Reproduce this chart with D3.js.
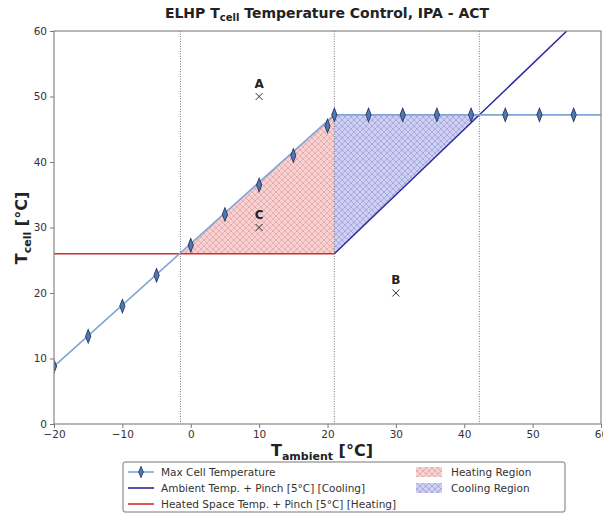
<!DOCTYPE html>
<html>
<head>
<meta charset="utf-8">
<script src="https://cdn.jsdelivr.net/npm/d3@7"></script>
<style>
  body { margin: 0; background: #fff; }
  text { font-family: "DejaVu Sans", sans-serif; }
</style>
</head>
<body>
<svg id="chart" width="603" height="514"></svg>
<script>
// max cell temperature readings (diamonds)
var maxCellX = [-20, -15, -10, -5, 0, 5, 10, 15, 20, 21, 26, 31, 36, 41, 46, 51, 56];
var maxCellY = [8.8, 13.4, 18.0, 22.7, 27.3, 32.0, 36.5, 41.0, 45.5, 47.2, 47.2, 47.2, 47.2, 47.2, 47.2, 47.2, 47.2];
var maxCellLineX = [-20, 21, 62];
var maxCellLineY = [8.8, 47.2, 47.2];

// ambient + pinch (cooling) and heated space + pinch (heating)
var coolX = [21, 55];
var coolY = [26, 60];
var heatX = [-20, 21];
var heatY = [26, 26];

// shaded regions
var heatRegionX = [-1.5, 21, 21];
var heatRegionY = [26, 47.2, 26];
var coolRegionX = [21, 21, 42.2];
var coolRegionY = [26, 47.2, 47.2];

// vertical dotted markers
var vLines = [-1.5, 21, 42.2];

// operating points
var pointNames = ["A", "B", "C"];
var pointX = [10, 30, 10];
var pointY = [50, 20, 30];

var xTicks = [-20, -10, 0, 10, 20, 30, 40, 50, 60];
var yTicks = [0, 10, 20, 30, 40, 50, 60];

var svg = d3.select("#chart");
var pLeft = 54, pRight = 601, pTop = 31, pBottom = 424;

var x = d3.scaleLinear().domain([-20, 60]).range([pLeft, pRight]);
var y = d3.scaleLinear().domain([0, 60]).range([pBottom, pTop]);

var defs = svg.append("defs");
function hatch(id, bg, stroke) {
  var p = defs.append("pattern")
      .attr("id", id)
      .attr("patternUnits", "userSpaceOnUse")
      .attr("width", 6).attr("height", 6);
  p.append("rect").attr("width", 6).attr("height", 6).attr("fill", bg);
  p.append("path")
      .attr("d", "M0,0L6,6M6,0L0,6")
      .attr("stroke", stroke).attr("stroke-width", 0.6).attr("fill", "none");
}
hatch("heatHatch", "#f6d2d2", "#e39494");
hatch("coolHatch", "#cfcff1", "#9090d8");

defs.append("clipPath").attr("id", "plotClip")
  .append("rect").attr("x", pLeft).attr("y", pTop)
  .attr("width", pRight - pLeft).attr("height", pBottom - pTop);

var plot = svg.append("g").attr("clip-path", "url(#plotClip)");

function poly(xs, ys) {
  return xs.map(function(d, i) { return [x(d), y(ys[i])]; });
}
var line = d3.line();

plot.append("path")
    .attr("d", line(poly(heatRegionX, heatRegionY)) + "Z")
    .attr("fill", "url(#heatHatch)");
plot.append("path")
    .attr("d", line(poly(coolRegionX, coolRegionY)) + "Z")
    .attr("fill", "url(#coolHatch)");

plot.selectAll(".vline").data(vLines).enter().append("line")
    .attr("class", "vline")
    .attr("x1", d => x(d)).attr("x2", d => x(d))
    .attr("y1", pTop).attr("y2", pBottom)
    .attr("stroke", "#555").attr("stroke-width", 0.8)
    .attr("stroke-dasharray", "1,1.5");

plot.append("path")
    .attr("d", line(poly(heatX, heatY)))
    .attr("stroke", "#d62a2a").attr("stroke-width", 1.5).attr("fill", "none");
plot.append("path")
    .attr("d", line(poly(coolX, coolY)))
    .attr("stroke", "#2a2a9c").attr("stroke-width", 1.5).attr("fill", "none");

plot.append("path")
    .attr("d", line(poly(maxCellLineX, maxCellLineY)))
    .attr("stroke", "#7fa6d6").attr("stroke-width", 1.6).attr("fill", "none");

var diamond = d3.symbol().type(d3.symbolDiamond).size(38);
plot.selectAll(".dia").data(maxCellX).enter().append("path")
    .attr("class", "dia")
    .attr("transform", (d, i) => "translate(" + x(d) + "," + y(maxCellY[i]) + ") scale(0.8,1.2)")
    .attr("d", diamond)
    .attr("fill", "#4f78b0").attr("stroke", "#1f2f5c").attr("stroke-width", 0.9);

// operating points
pointNames.forEach(function(n, i) {
  var px = x(pointX[i]), py = y(pointY[i]);
  plot.append("path")
      .attr("d", "M" + (px - 3.5) + "," + (py - 3.5) + "L" + (px + 3.5) + "," + (py + 3.5) +
                 "M" + (px + 3.5) + "," + (py - 3.5) + "L" + (px - 3.5) + "," + (py + 3.5))
      .attr("stroke", "#333").attr("stroke-width", 1);
  plot.append("text")
      .attr("x", px).attr("y", py - 9)
      .attr("text-anchor", "middle")
      .attr("font-size", 12).attr("font-weight", "bold").attr("fill", "#222")
      .text(n);
});

// axes
var xAxis = svg.append("g").attr("transform", "translate(0," + pBottom + ")")
    .call(d3.axisBottom(x).tickValues(xTicks).tickSize(4).tickSizeOuter(0)
      .tickFormat(d => d < 0 ? "\u2212" + Math.abs(d) : d));
var yAxis = svg.append("g").attr("transform", "translate(" + pLeft + ",0)")
    .call(d3.axisLeft(y).tickValues(yTicks).tickSize(4).tickSizeOuter(0));
[xAxis, yAxis].forEach(function(a) {
  a.select(".domain").remove();
  a.selectAll("line").attr("stroke", "#777");
  a.selectAll("text").attr("font-size", 10.5).attr("fill", "#333")
    .style("font-family", "DejaVu Sans, sans-serif");
});

svg.append("rect")
    .attr("x", pLeft).attr("y", pTop)
    .attr("width", pRight - pLeft).attr("height", pBottom - pTop)
    .attr("fill", "none").attr("stroke", "#888").attr("stroke-width", 1.2);

// title and labels
var title = svg.append("text")
    .attr("x", 327).attr("y", 18)
    .attr("text-anchor", "middle")
    .attr("font-size", 14).attr("font-weight", "bold").attr("fill", "#222");
title.append("tspan").text("ELHP T");
title.append("tspan").attr("font-size", 10).attr("dy", 3).text("cell");
title.append("tspan").attr("dy", -3).text(" Temperature Control, IPA - ACT");

var xl = svg.append("text")
    .attr("x", 322).attr("y", 456)
    .attr("text-anchor", "middle")
    .attr("font-size", 16).attr("font-weight", "bold").attr("fill", "#222");
xl.append("tspan").text("T");
xl.append("tspan").attr("font-size", 11).attr("dy", 4).text("ambient");
xl.append("tspan").attr("dy", -4).text(" [\u00b0C]");

var yl = svg.append("text")
    .attr("transform", "translate(27,228) rotate(-90)")
    .attr("text-anchor", "middle")
    .attr("font-size", 16).attr("font-weight", "bold").attr("fill", "#222");
yl.append("tspan").text("T");
yl.append("tspan").attr("font-size", 11).attr("dy", 4).text("cell");
yl.append("tspan").attr("dy", -4).text(" [\u00b0C]");

// legend
var lg = svg.append("g");
lg.append("rect")
    .attr("x", 123).attr("y", 462).attr("width", 442).attr("height", 50)
    .attr("rx", 2)
    .attr("fill", "#fff").attr("stroke", "#666").attr("stroke-width", 0.9);

var legLines = [
  {label: "Max Cell Temperature", color: "#7fa6d6", marker: true},
  {label: "Ambient Temp. + Pinch [5\u00b0C] [Cooling]", color: "#2a2a9c"},
  {label: "Heated Space Temp. + Pinch [5\u00b0C] [Heating]", color: "#d62a2a"}
];
legLines.forEach(function(d, i) {
  var ly = 472 + i * 16;
  lg.append("line").attr("x1", 128).attr("x2", 154).attr("y1", ly).attr("y2", ly)
    .attr("stroke", d.color).attr("stroke-width", 1.6);
  if (d.marker) {
    lg.append("path")
      .attr("transform", "translate(141," + ly + ") scale(0.7,1.0)")
      .attr("d", diamond)
      .attr("fill", "#4f78b0").attr("stroke", "#1f2f5c").attr("stroke-width", 0.9);
  }
  lg.append("text").attr("x", 161).attr("y", ly + 4)
    .attr("font-size", 10.5).attr("fill", "#333").text(d.label);
});
var legFills = [
  {label: "Heating Region", fill: "url(#heatHatch)"},
  {label: "Cooling Region", fill: "url(#coolHatch)"}
];
legFills.forEach(function(d, i) {
  var ly = 472 + i * 16;
  lg.append("rect").attr("x", 416).attr("y", ly - 5).attr("width", 26).attr("height", 10)
    .attr("fill", d.fill);
  lg.append("text").attr("x", 451).attr("y", ly + 4)
    .attr("font-size", 10.5).attr("fill", "#333").text(d.label);
});
</script>
</body>
</html>
